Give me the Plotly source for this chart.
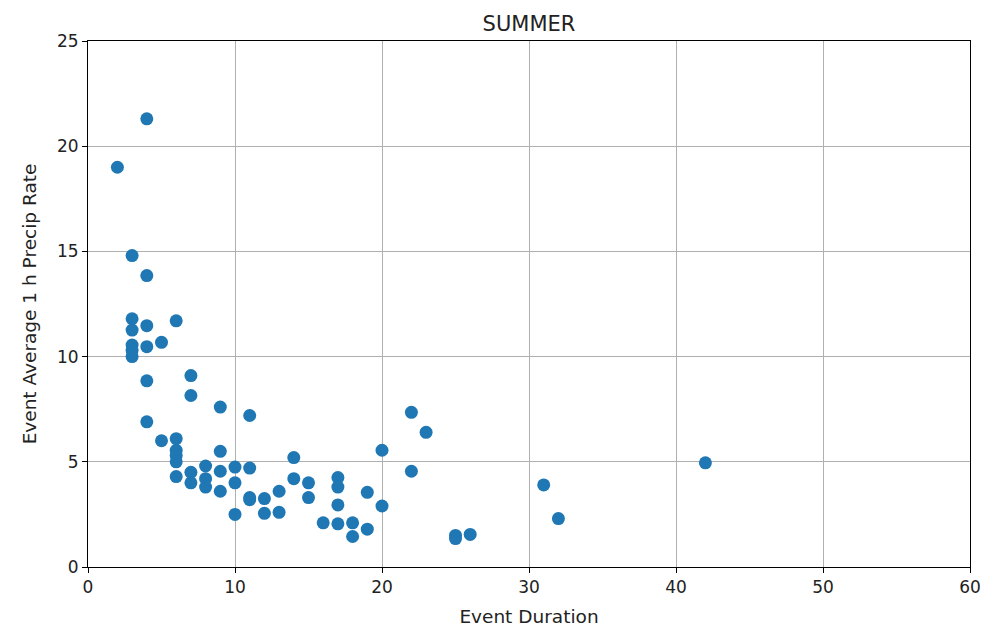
import plotly.graph_objects as go

duration = [2, 4, 3, 4, 3, 3, 4, 6, 5, 4, 3, 3, 3,
            4, 7, 7, 4, 9, 11, 5, 6, 6, 6, 6, 6,
            7, 7, 8, 8, 8, 9, 9, 9, 10, 10, 10,
            11, 11, 11, 12, 12, 13, 13, 14, 14, 15, 15,
            16, 17, 17, 17, 17, 18, 18, 19, 19, 20, 20,
            22, 22, 23, 25, 25, 26, 31, 32, 42]
precip = [19.0, 21.3, 14.8, 13.85, 11.8, 11.26, 11.47, 11.7, 10.68, 10.47, 10.55, 10.3, 10.0,
          8.85, 9.1, 8.15, 6.9, 7.6, 7.2, 6.0, 6.1, 5.55, 5.3, 5.0, 4.3,
          4.5, 4.0, 4.8, 4.2, 3.8, 5.5, 4.55, 3.6, 4.75, 4.0, 2.5,
          4.7, 3.3, 3.2, 3.25, 2.55, 3.6, 2.6, 5.2, 4.2, 4.0, 3.3,
          2.1, 4.25, 3.8, 2.95, 2.05, 2.1, 1.45, 3.55, 1.8, 5.55, 2.9,
          7.35, 4.55, 6.4, 1.5, 1.35, 1.55, 3.9, 2.3, 4.95]

fig = go.Figure(go.Scatter(
    x=duration, y=precip, mode="markers",
    marker=dict(color="#1f77b4", size=13, line=dict(width=0)),
))

axis_common = dict(
    showgrid=True, gridcolor="#b0b0b0", gridwidth=1,
    showline=True, linecolor="black", linewidth=1, mirror=True,
    ticks="outside", ticklen=5, tickcolor="black",
    zeroline=False, automargin=False,
    tickfont=dict(family="DejaVu Sans", size=17, color="#222222"),
)

fig.update_layout(
    width=994, height=630,
    margin=dict(l=88, r=24, t=41, b=63),
    paper_bgcolor="white", plot_bgcolor="white",
    showlegend=False,
    title=dict(text="SUMMER", xref="paper", x=0.5, xanchor="center",
               yref="container", y=0.963, yanchor="middle",
               font=dict(family="DejaVu Sans", size=21, color="#222222")),
    font=dict(family="DejaVu Sans", color="#222222"),
)
fig.update_xaxes(range=[0, 60], tickvals=[0, 10, 20, 30, 40, 50, 60],
                 title=dict(text="Event Duration", font=dict(size=18.5), standoff=13),
                 **axis_common)
fig.update_yaxes(range=[0, 25], tickvals=[0, 5, 10, 15, 20, 25],
                 title=dict(text="Event Average 1 h Precip Rate", font=dict(size=18.5), standoff=15),
                 **axis_common)

fig.write_html("out.html")
